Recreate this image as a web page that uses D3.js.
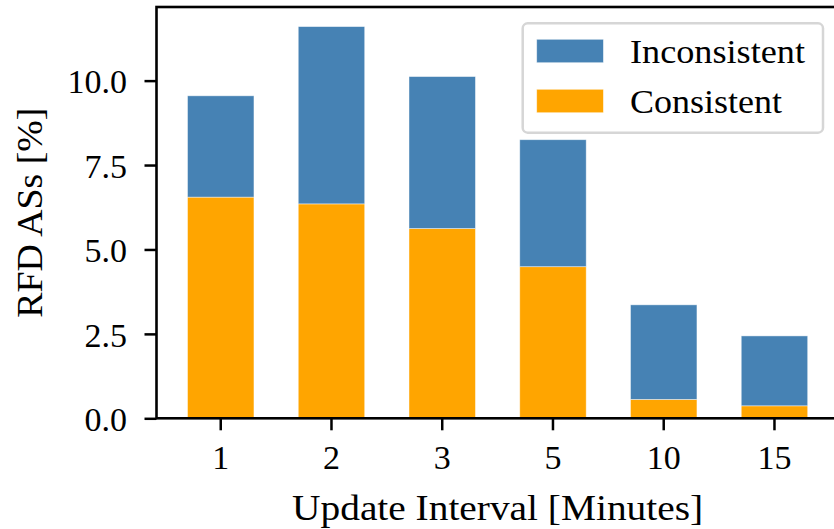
<!DOCTYPE html>
<html>
<head>
<meta charset="utf-8">
<script src="https://cdn.jsdelivr.net/npm/d3@7"></script>
<style>
  html, body { margin: 0; padding: 0; background: #fff; }
  svg { display: block; }
  svg text { font-family: "Liberation Serif", serif; fill: #000; }
</style>
</head>
<body>
<svg id="chart" width="834" height="529"></svg>
<script>
// ---- data ----
const categories = ["1", "2", "3", "5", "10", "15"];
const consistent = [6.55, 6.35, 5.62, 4.49, 0.56, 0.37];
const inconsistent = [3.00, 5.25, 4.50, 3.76, 2.80, 2.07];
const yTicks = [0, 2.5, 5.0, 7.5, 10.0];
const seriesNames = ["Inconsistent", "Consistent"];
const colors = { Inconsistent: "#4682b4", Consistent: "#ffa500" };
const xLabel = "Update Interval [Minutes]";
const yLabel = "RFD ASs [%]";

// ---- layout ----
const plotLeft = 156.5, plotRight = 838.7, plotTop = 7, plotBottom = 418.3;
const serifFont = '"Liberation Serif", serif';

const svg = d3.select("#chart");

const x = d3.scaleBand()
  .domain(categories)
  .range([plotLeft, plotRight])
  .paddingInner(0.4)
  .paddingOuter(0.28);

const totals = consistent.map((c, i) => c + inconsistent[i]);
const yMax = d3.max(totals) * 1.05;
const y = d3.scaleLinear().domain([0, yMax]).range([plotBottom, plotTop]);

// stacked data
const rows = categories.map((c, i) => ({ cat: c, Consistent: consistent[i], Inconsistent: inconsistent[i] }));
const stacked = d3.stack().keys(["Consistent", "Inconsistent"])(rows);

svg.append("g").selectAll("g.layer")
  .data(stacked)
  .join("g")
  .attr("class", "layer")
  .attr("fill", d => colors[d.key])
  .selectAll("rect")
  .data(d => d)
  .join("rect")
  .attr("x", d => x(d.data.cat))
  .attr("width", x.bandwidth())
  .attr("y", d => y(d[1]))
  .attr("height", d => y(d[0]) - y(d[1]))
  .attr("stroke", "#ffffff")
  .attr("stroke-width", 0.8)
  .attr("stroke-opacity", 0.55);

// ---- axes ----
const tickLen = 12;
const yAxis = d3.axisLeft(y).tickValues(yTicks).tickFormat(d3.format(".1f")).tickSize(tickLen).tickPadding(0);
const yg = svg.append("g").attr("transform", `translate(${plotLeft},0)`).call(yAxis);
yg.attr("font-family", null).attr("font-size", null);
yg.select(".domain").remove();
yg.selectAll(".tick line").attr("stroke", "#000").attr("stroke-width", 2.5);
yg.selectAll(".tick text")
  .attr("x", -29.5)
  .attr("dy", "0.36em")
  .style("font-family", serifFont)
  .style("font-size", "34px")
  .attr("fill", "#000");

const xAxis = d3.axisBottom(x).tickSize(tickLen).tickPadding(0);
const xg = svg.append("g").attr("transform", `translate(0,${plotBottom})`).call(xAxis);
xg.attr("font-family", null).attr("font-size", null);
xg.select(".domain").remove();
xg.selectAll(".tick line").attr("stroke", "#000").attr("stroke-width", 2.5);
xg.selectAll(".tick text")
  .attr("y", 51)
  .attr("dy", 0)
  .style("font-family", serifFont)
  .style("font-size", "34px")
  .attr("fill", "#000");

// spines (box)
svg.append("rect")
  .attr("x", plotLeft).attr("y", plotTop)
  .attr("width", plotRight - plotLeft).attr("height", plotBottom - plotTop)
  .attr("fill", "none").attr("stroke", "#000").attr("stroke-width", 2.6);

// axis labels
svg.append("text")
  .attr("x", (plotLeft + plotRight) / 2)
  .attr("y", 519.5)
  .attr("text-anchor", "middle")
  .attr("textLength", 411)
  .attr("lengthAdjust", "spacingAndGlyphs")
  .style("font-family", serifFont)
  .style("font-size", "35px")
  .text(xLabel);

svg.append("text")
  .attr("transform", `translate(42,${(plotTop + plotBottom) / 2}) rotate(-90)`)
  .attr("text-anchor", "middle")
  .attr("textLength", 210)
  .attr("lengthAdjust", "spacingAndGlyphs")
  .style("font-family", serifFont)
  .style("font-size", "35px")
  .text(yLabel);

// ---- legend ----
const lg = svg.append("g");
lg.append("rect")
  .attr("x", 522.7).attr("y", 23.3)
  .attr("width", 300.3).attr("height", 109.4)
  .attr("rx", 5).attr("ry", 5)
  .attr("fill", "#fff").attr("fill-opacity", 0.85)
  .attr("stroke", "#d6d6d6").attr("stroke-width", 2.5);

const legendWidths = { Inconsistent: 175, Consistent: 152 };
seriesNames.forEach((name, i) => {
  const yy = 39.3 + i * 50;
  lg.append("rect")
    .attr("x", 536.7).attr("y", yy)
    .attr("width", 66.7).attr("height", 23.4)
    .attr("fill", colors[name])
    .attr("stroke", "#ffffff").attr("stroke-width", 0.8).attr("stroke-opacity", 0.55);
  lg.append("text")
    .attr("x", 630).attr("y", yy + 23.4)
    .attr("textLength", legendWidths[name])
    .attr("lengthAdjust", "spacingAndGlyphs")
    .style("font-family", serifFont)
    .style("font-size", "33px")
    .text(name);
});
</script>
</body>
</html>
